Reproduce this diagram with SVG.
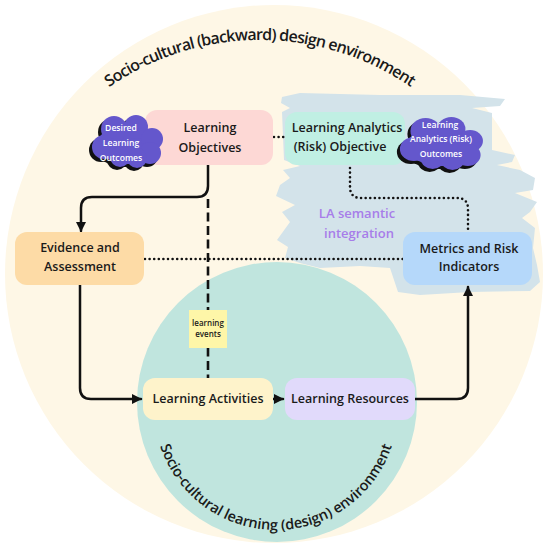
<svg xmlns="http://www.w3.org/2000/svg" xmlns:xlink="http://www.w3.org/1999/xlink" width="550" height="553" viewBox="0 0 550 553">
<defs>
<style>
.node text{font-family:"Open Sans","Noto Sans",sans-serif;font-size:12.5px;font-weight:600;fill:#1a1a1a;text-anchor:middle}
.cloudtxt{font-family:"Open Sans","Noto Sans",sans-serif;font-size:8.6px;font-weight:600;fill:#ffffff;text-anchor:middle}
.arc{font-family:"Open Sans","Noto Sans",sans-serif;font-weight:600;fill:#1a1a1a}
.solid{fill:none;stroke:#111;stroke-width:2.5;stroke-linecap:round;stroke-linejoin:round}
.dot{fill:none;stroke:#111;stroke-width:2.6;stroke-linecap:round;stroke-dasharray:0 4.6}
.dash{fill:none;stroke:#111;stroke-width:2.6;stroke-dasharray:9 4.5}
</style>
<marker id="ah" viewBox="0 0 10 10" refX="9" refY="5" markerWidth="4" markerHeight="4" orient="auto" markerUnits="strokeWidth">
<path d="M0,0 L10,5 L0,10 Z" fill="#111"/>
</marker>
<g id="cloud">
<ellipse cx="0" cy="3" rx="30" ry="20"/>
<circle cx="-14" cy="-12" r="13"/>
<circle cx="8" cy="-14" r="12"/>
<circle cx="24" cy="-2" r="11"/>
<circle cx="22" cy="12" r="11"/>
<circle cx="-24" cy="6" r="12"/>
<circle cx="-8" cy="16" r="10"/>
<circle cx="9" cy="17" r="10"/>
</g>
<path id="topArc" d="M30.5,172.5 A265,265 0 0 1 489.5,172.5"/>
<path id="botArc" d="M154,408 A122,122 0 0 0 398,408"/>
</defs>

<rect x="0" y="0" width="550" height="553" fill="#ffffff"/>
<circle cx="274" cy="274" r="269" fill="#FEF7E6"/>

<path d="M282,97 L300,93 L380,95 L460,95 L505,99 L500,106 L472,108 L492,113 L492,150 L515,155 L512,162 L497,165 L520,170 L535,178 L533,190 L515,193 L537,202 L530,212 L522,218 L535,228 L533,248 L537,265 L540,282 L530,291 L470,292 L420,295 L398,292 L390,268 L360,266 L320,268 L300,263 L285,258 L288,247 L277,240 L290,222 L282,212 L295,205 L276,196 L280,185 L290,178 L283,170 L300,166 L284,160 L282,112 L290,108 L281,103 Z" fill="#D3E3EA"/>

<circle cx="277" cy="402" r="140" fill="#C0E5DE"/>

<text class="arc" font-size="16"><textPath xlink:href="#topArc" href="#topArc" startOffset="50%" text-anchor="middle" textLength="321" lengthAdjust="spacing">Socio-cultural (backward) design environment</textPath></text>
<text class="arc" font-size="14.5"><textPath xlink:href="#botArc" href="#botArc" startOffset="50%" text-anchor="middle" textLength="306" lengthAdjust="spacing">Socio-cultural learning (design) environment</textPath></text>

<text x="357" y="218" font-family="'Open Sans','Noto Sans',sans-serif" font-size="13" font-weight="600" fill="#A77DE9" text-anchor="middle">LA semantic</text>
<text x="359" y="238" font-family="'Open Sans','Noto Sans',sans-serif" font-size="13" font-weight="600" fill="#A77DE9" text-anchor="middle">integration</text>

<g id="connectors">
<path class="solid" d="M208,165 V186 Q208,197 197,197 H92 Q81,197 81,208 V231" marker-end="url(#ah)"/>
<path class="dash" d="M208,199 V378"/>
<path class="dot" d="M145,259 H403"/>
<path class="dot" d="M274,137 H285"/>
<path class="dot" d="M350,168 V187 Q350,198 361,198 H457 Q468,198 468,209 V231"/>
<path class="solid" d="M80,285 V388 Q80,399 91,399 H141" marker-end="url(#ah)"/>
<path class="solid" d="M273,399 H283" marker-end="url(#ah)"/>
<path class="solid" d="M415,399 H457 Q468,399 468,388 V287" marker-end="url(#ah)"/>
</g>

<g id="learning-objectives" class="node">
<rect x="145" y="110" width="128" height="55" rx="12" fill="#FDD8D5"/>
<text x="210" y="132">Learning</text>
<text x="210" y="152">Objectives</text>
</g>

<g id="desired-outcomes">
<use href="#cloud" xlink:href="#cloud" transform="translate(125,144)" fill="#111"/>
<use href="#cloud" xlink:href="#cloud" transform="translate(128,141)" fill="#6457CC"/>
<text class="cloudtxt" x="121" y="131">Desired</text>
<text class="cloudtxt" x="121" y="146">Learning</text>
<text class="cloudtxt" x="121" y="161">Outcomes</text>
</g>

<g id="la-objective" class="node">
<rect x="285" y="112" width="120" height="53" rx="12" fill="#C0EFE3"/>
<text x="347" y="132">Learning Analytics</text>
<text x="340" y="151">(Risk) Objective</text>
</g>

<g id="la-outcomes">
<use href="#cloud" xlink:href="#cloud" transform="translate(439,146) scale(1.17,1)" fill="#111"/>
<use href="#cloud" xlink:href="#cloud" transform="translate(442,143) scale(1.17,1)" fill="#6457CC"/>
<text class="cloudtxt" x="440" y="128">Learning</text>
<text class="cloudtxt" x="441" y="142">Analytics (Risk)</text>
<text class="cloudtxt" x="441" y="157">Outcomes</text>
</g>

<g id="evidence-assessment" class="node">
<rect x="15" y="232" width="129" height="53" rx="12" fill="#FDDBA6"/>
<text x="80" y="252">Evidence and</text>
<text x="80" y="271">Assessment</text>
</g>

<g id="metrics-risk" class="node">
<rect x="403" y="232" width="129" height="53" rx="12" fill="#B5D8FA"/>
<text x="469" y="253">Metrics and Risk</text>
<text x="469" y="271">Indicators</text>
</g>

<g id="learning-events">
<rect x="189" y="310" width="38" height="38" fill="#FEF6A8"/>
<text x="208" y="326" font-family="'Open Sans','Noto Sans',sans-serif" font-size="8" font-weight="600" fill="#1a1a1a" text-anchor="middle">learning</text>
<text x="208" y="337" font-family="'Open Sans','Noto Sans',sans-serif" font-size="8" font-weight="600" fill="#1a1a1a" text-anchor="middle">events</text>
</g>

<g id="learning-activities" class="node">
<rect x="143" y="378" width="130" height="42" rx="12" fill="#FEF3CB"/>
<text x="208" y="403">Learning Activities</text>
</g>

<g id="learning-resources" class="node">
<rect x="285" y="378" width="130" height="42" rx="12" fill="#E1DAFB"/>
<text x="350" y="403">Learning Resources</text>
</g>
</svg>
